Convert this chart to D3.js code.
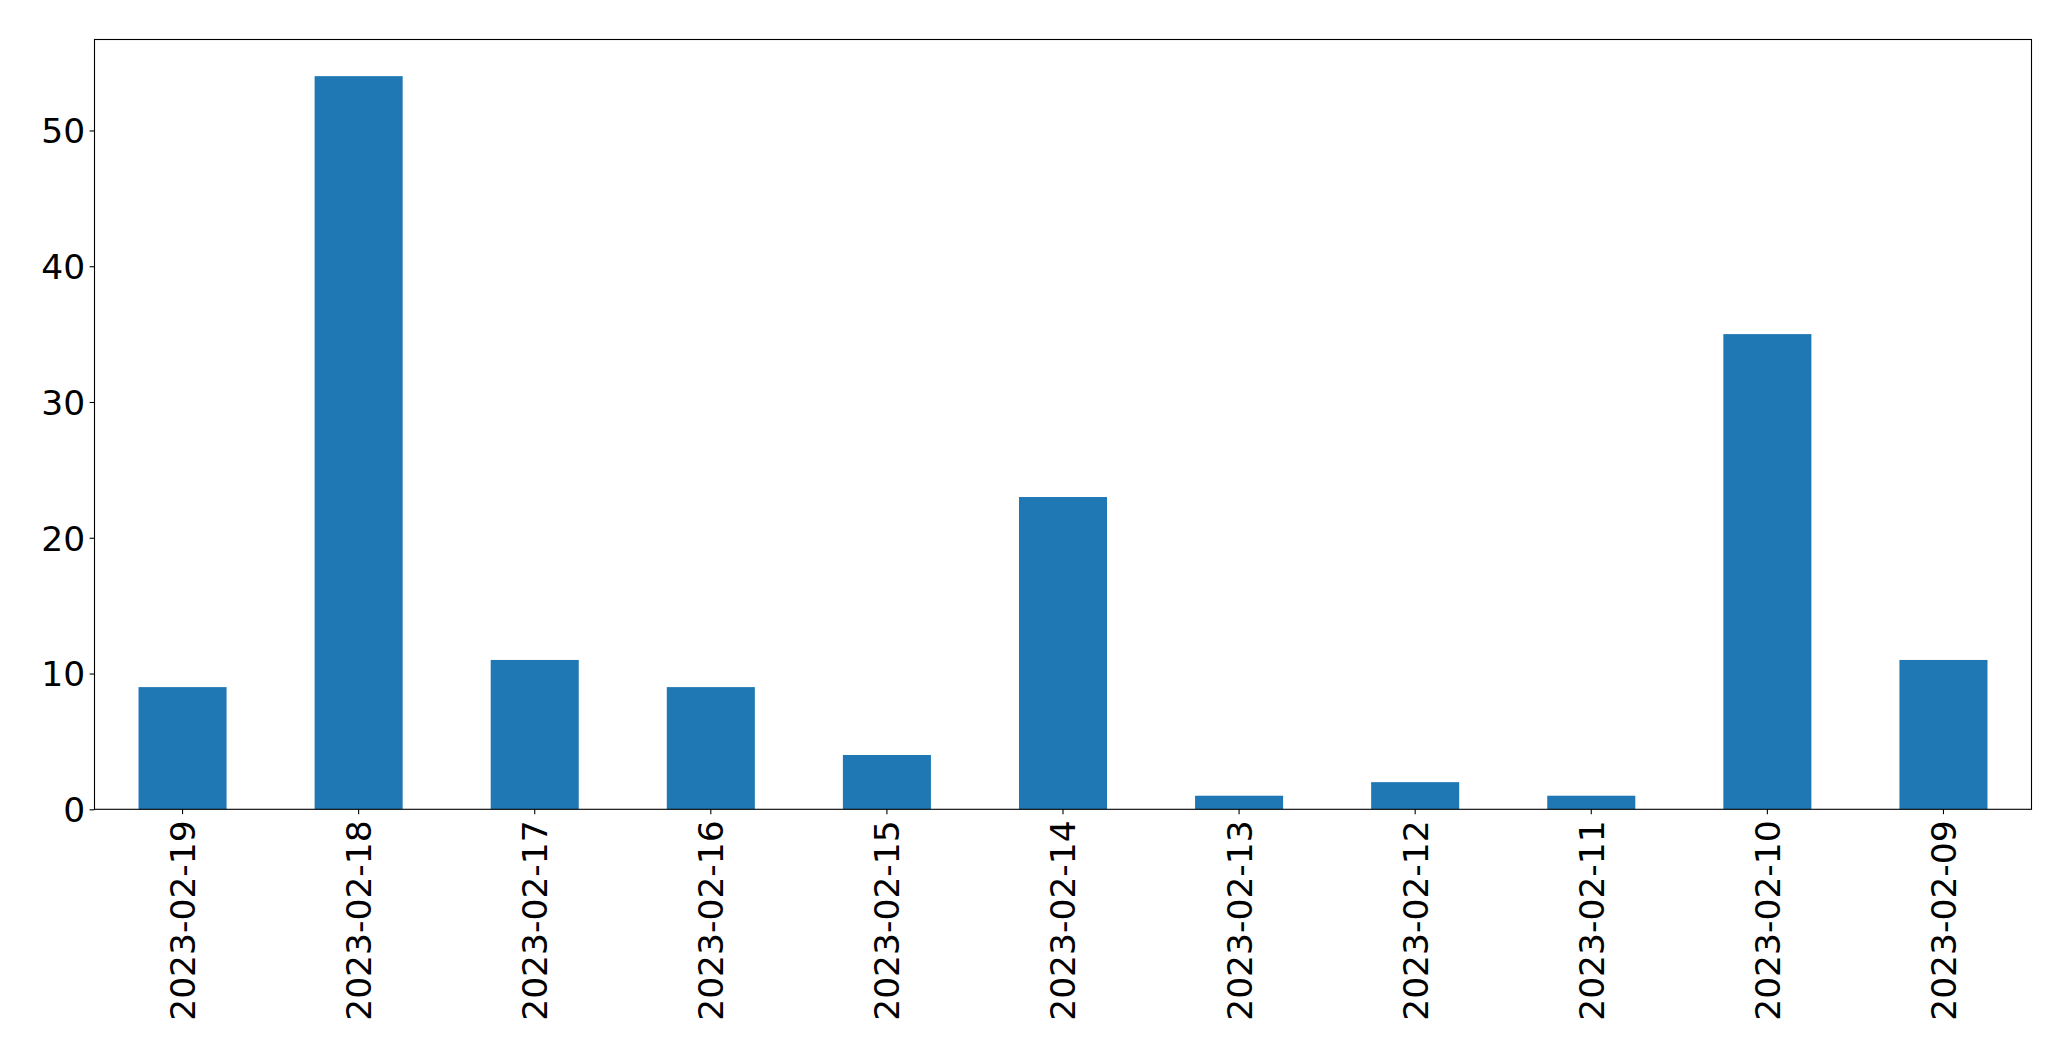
<!DOCTYPE html>
<html><head><meta charset="utf-8">
<script src="https://cdn.jsdelivr.net/npm/d3@7"></script>
<style>body{margin:0;background:#fff}svg{display:block}text{font-family:"DejaVu Sans",sans-serif}</style>
</head><body>
<svg id="c" width="2071" height="1061"></svg>
<script>
const categories = ["2023-02-19","2023-02-18","2023-02-17","2023-02-16","2023-02-15","2023-02-14","2023-02-13","2023-02-12","2023-02-11","2023-02-10","2023-02-09"];
const values = [9, 54, 11, 9, 4, 23, 1, 2, 1, 35, 11];
const yTicks = [0, 10, 20, 30, 40, 50];

const svg = d3.select("#c");
const L = 94.5, R = 2031.5, T = 39.5, B = 809.3;
const fs = 34.5;

const x = d3.scaleBand().domain(categories).range([L, R]).paddingInner(0.5).paddingOuter(0.25);
const yMax = d3.max(values) * 1.05;
const y = d3.scaleLinear().domain([0, yMax]).range([B, T]);

svg.append("g").selectAll("rect").data(values).join("rect")
  .attr("x", (d, i) => x(categories[i]))
  .attr("width", x.bandwidth())
  .attr("y", d => y(d))
  .attr("height", d => y(0) - y(d))
  .attr("fill", "#1f77b4");

const yAxis = svg.append("g").attr("transform", `translate(${L},0)`)
  .call(d3.axisLeft(y).tickValues(yTicks).tickSize(4.9).tickPadding(4.5).tickFormat(d3.format("d")));
yAxis.select(".domain").remove();
yAxis.selectAll("line").attr("stroke", "#000").attr("stroke-width", 1.1);
yAxis.selectAll("text").attr("font-size", fs).attr("font-family", "DejaVu Sans").attr("fill", "#000").attr("dy", "0.36em");

const xAxis = svg.append("g").attr("transform", `translate(0,${B})`)
  .call(d3.axisBottom(x).tickSize(4.9).tickPadding(0));
xAxis.select(".domain").remove();
xAxis.selectAll("line").attr("stroke", "#000").attr("stroke-width", 1.1);
xAxis.selectAll("text")
  .attr("font-size", fs).attr("font-family", "DejaVu Sans").attr("fill", "#000")
  .attr("text-anchor", "end")
  .attr("transform", "translate(0,11) rotate(-90)")
  .attr("x", 0).attr("y", 0).attr("dy", "0.36em");

svg.append("rect").attr("x", L).attr("y", T).attr("width", R - L).attr("height", B - T)
  .attr("fill", "none").attr("stroke", "#000").attr("stroke-width", 1.1);
</script>
</body></html>
